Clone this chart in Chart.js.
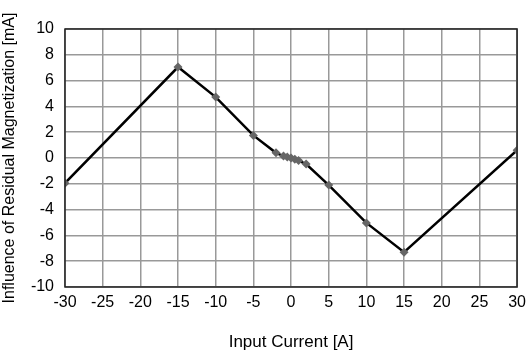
<!DOCTYPE html>
<html>
<head>
<meta charset="utf-8">
<script src="https://cdn.jsdelivr.net/npm/chart.js@4"></script>
<style>
  html, body { margin: 0; padding: 0; background: #fff; }
  #wrap { width: 532px; height: 353px; }
</style>
</head>
<body>
<div id="wrap"><canvas id="chart" width="532" height="353"></canvas></div>
<script>
const inputCurrent = [-30, -15, -10, -5, -2, -1, -0.5, 0, 0.5, 1, 2, 5, 10, 15, 30];
const influence = [-1.95, 7.05, 4.72, 1.75, 0.4, 0.15, 0.08, 0, -0.1, -0.2, -0.47, -2.1, -5.03, -7.3, 0.6];

const xTicks = [-30, -25, -20, -15, -10, -5, 0, 5, 10, 15, 20, 25, 30];
const yTicks = [-10, -8, -6, -4, -2, 0, 2, 4, 6, 8, 10];

const xTitle = 'Input Current [A]';
const yTitle = 'Influence of Residual Magnetization [mA]';

const points = inputCurrent.map((x, i) => ({ x: x, y: influence[i] }));

// frame around the plot area
const frame = {
    id: 'frame',
    afterDatasetsDraw(chart) {
        const a = chart.chartArea;
        const ctx = chart.ctx;
        ctx.save();
        ctx.strokeStyle = '#222';
        ctx.lineWidth = 1.5;
        ctx.strokeRect(a.left, a.top, a.right - a.left, a.bottom - a.top);
        ctx.restore();
    }
};

const family = 'Liberation Sans, Arial, sans-serif';
const tickFont = { family: family, size: 16 };

new Chart(document.getElementById('chart').getContext('2d'), {
    type: 'scatter',
    data: {
        datasets: [{
            data: points,
            showLine: true,
            borderColor: '#000',
            borderWidth: 2.5,
            pointStyle: 'rectRot',
            pointRadius: 4.5,
            pointBackgroundColor: '#666',
            pointBorderColor: '#666',
            pointBorderWidth: 0
        }]
    },
    options: {
        responsive: false,
        animation: false,
        layout: { padding: { top: 29, right: 11, left: 0, bottom: 0 } },
        plugins: { legend: { display: false }, tooltip: { enabled: false } },
        scales: {
            x: {
                type: 'linear',
                min: -30, max: 30,
                afterBuildTicks: s => { s.ticks = xTicks.map(v => ({ value: v })); },
                afterFit: s => { s.height = 353 - 287; },
                grid: { color: '#999', lineWidth: 1.5, drawTicks: false },
                border: { display: false },
                ticks: { color: '#000', font: tickFont, padding: 6, maxRotation: 0, autoSkip: false },
                title: { display: true, text: xTitle, color: '#000', font: { family: family, size: 17 }, padding: { top: 10, bottom: 0 } }
            },
            y: {
                type: 'linear',
                min: -10, max: 10,
                afterBuildTicks: s => { s.ticks = yTicks.map(v => ({ value: v })); },
                afterFit: s => { s.width = 65; },
                grid: { color: '#999', lineWidth: 1.5, drawTicks: false },
                border: { display: false },
                ticks: { color: '#000', font: tickFont, padding: 11, autoSkip: false },
                title: { display: true, text: yTitle, color: '#000', font: { family: family, size: 16 }, padding: { top: 0, bottom: 4 } }
            }
        }
    },
    plugins: [frame]
});
</script>
</body>
</html>
